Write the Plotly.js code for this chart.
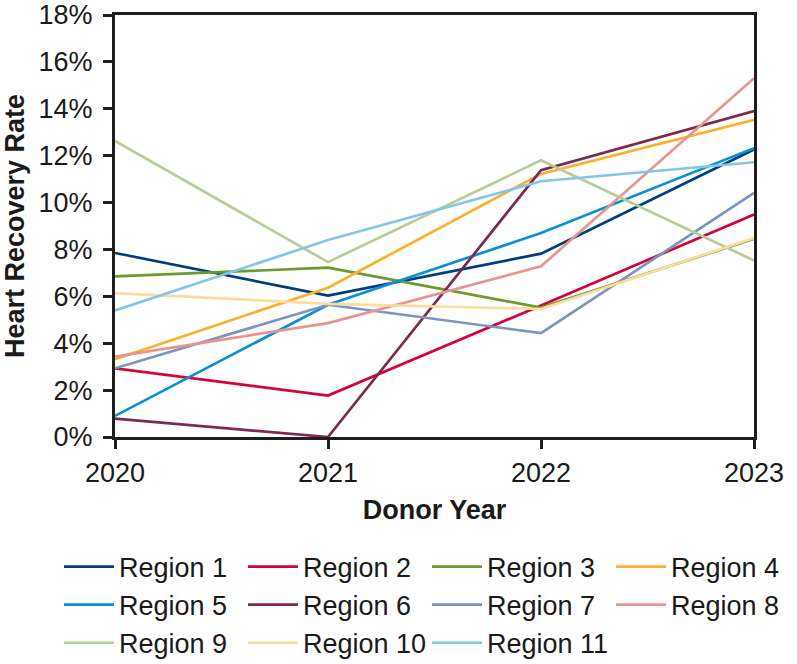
<!DOCTYPE html>
<html>
<head>
<meta charset="utf-8">
<script src="https://cdn.plot.ly/plotly-3.0.1.min.js"></script>
<style>html,body{margin:0;padding:0;background:#fff;}#chart{width:797px;height:664px;}</style>
</head>
<body>
<div id="chart"></div>
<script>
const years = [2020, 2021, 2022, 2023];
const regionNames = ["Region 1","Region 2","Region 3","Region 4","Region 5","Region 6","Region 7","Region 8","Region 9","Region 10","Region 11"];
const region1  = [7.85, 6.03, 7.82, 12.26];
const region2  = [2.93, 1.77, 5.61, 9.49];
const region3  = [6.85, 7.22, 5.52, 8.45];
const region4  = [3.32, 6.37, 11.22, 13.53];
const region5  = [0.90, 5.64, 8.70, 12.32];
const region6  = [0.78, 0.0, 11.38, 13.90];
const region7  = [2.93, 5.64, 4.43, 10.41];
const region8  = [3.43, 4.86, 7.28, 15.30];
const region9  = [12.63, 7.46, 11.80, 7.53];
const region10 = [6.14, 5.68, 5.46, 8.49];
const region11 = [5.40, 8.40, 10.91, 11.72];
const yTickVals = [0,2,4,6,8,10,12,14,16,18];
const yTickText = ["0%","2%","4%","6%","8%","10%","12%","14%","16%","18%"];

const seriesValues = [region1, region2, region3, region4, region5, region6, region7, region8, region9, region10, region11];
const colors = ["#003f7d","#d4043a","#6b9b2e","#fbb12e","#0a90d3","#7c2a52","#7d94c0","#e9958f","#b7cd96","#fedb9c","#84c5ea"];

const traces = seriesValues.map((vals, i) => ({
  x: years,
  y: vals,
  name: regionNames[i],
  type: 'scatter',
  mode: 'lines',
  line: {color: colors[i], width: 2.7},
  hoverinfo: 'x+y+name'
}));

const fontFam = 'Liberation Sans, Arial, Helvetica, sans-serif';
const layout = {
  width: 797,
  height: 664,
  margin: {l: 115, r: 43, t: 15, b: 227, autoexpand: false},
  paper_bgcolor: '#fff',
  plot_bgcolor: '#fff',
  showlegend: true,
  font: {family: fontFam, color: '#1a1a1a', size: 27},
  xaxis: {
    range: [2020, 2023],
    tickvals: years,
    ticktext: years.map(String),
    showgrid: false,
    zeroline: false,
    showline: true,
    linecolor: '#1e1e1e',
    linewidth: 3,
    mirror: true,
    ticks: 'outside',
    ticklen: 9,
    tickwidth: 3,
    tickcolor: '#1e1e1e',
    ticklabelstandoff: 1,
    tickfont: {size: 27, family: fontFam, color: '#1a1a1a'},
    title: {text: 'Donor Year', font: {size: 27, family: fontFam, color: '#1a1a1a', weight: 'bold'}, standoff: 13}
  },
  yaxis: {
    range: [0, 18],
    tickvals: yTickVals,
    ticktext: yTickText,
    showgrid: false,
    zeroline: false,
    showline: true,
    linecolor: '#1e1e1e',
    linewidth: 3,
    mirror: true,
    ticks: 'outside',
    ticklen: 9,
    tickwidth: 3,
    tickcolor: '#1e1e1e',
    ticklabelstandoff: 5,
    tickfont: {size: 27, family: fontFam, color: '#1a1a1a'},
    title: {text: 'Heart Recovery Rate', font: {size: 27, family: fontFam, color: '#1a1a1a', weight: 'bold'}, standoff: 10}
  },
  legend: {
    orientation: 'h',
    x: (59 - 115) / 639,
    xanchor: 'left',
    y: -0.25,
    yanchor: 'top',
    itemwidth: 50,
    entrywidth: 119,
    entrywidthmode: 'pixels',
    font: {size: 27, family: fontFam, color: '#1a1a1a'},
    bgcolor: 'rgba(0,0,0,0)'
  }
};

Plotly.newPlot('chart', traces, layout, {displayModeBar: false, staticPlot: true});
</script>
</body>
</html>
